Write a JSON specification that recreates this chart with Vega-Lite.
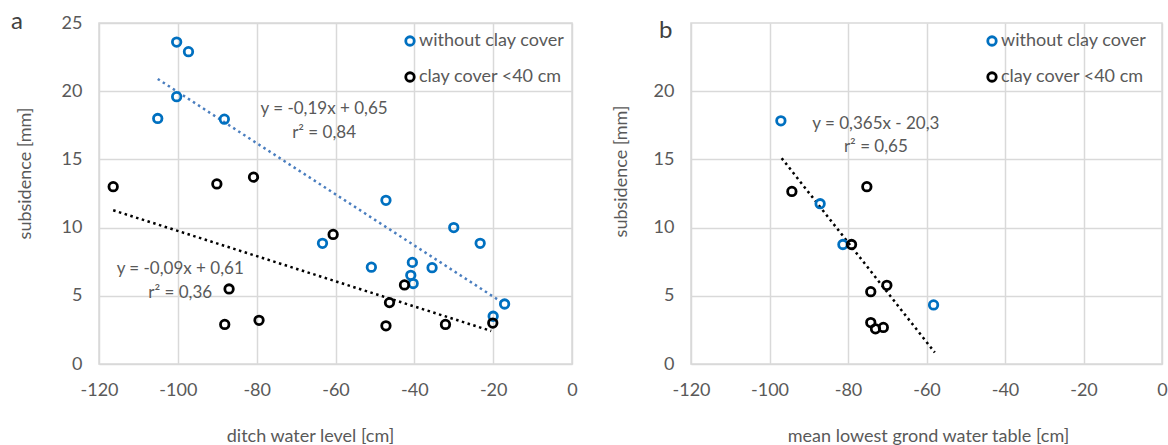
{
  "$schema": "https://vega.github.io/schema/vega-lite/v6.json",
  "background": "white",
  "padding": {"left": 10, "top": 9, "right": 5, "bottom": 0},
  "spacing": 119,
  "bounds": "flush",
  "config": {
    "font": "Lato",
    "view": {"stroke": "#d9d9d9", "strokeWidth": 1.5},
    "axis": {
      "grid": true, "gridColor": "#d9d9d9", "gridWidth": 1.5,
      "domain": false, "ticks": false,
      "labelColor": "#595959", "labelFontSize": 18, "labelFont": "Lato",
      "titleColor": "#595959", "titleFontSize": 18, "titleFontWeight": "normal", "titleFont": "Lato",
      "labelFlush": false,
      "labelExpr": "replace(datum.label, '\u2212', '-')"
    },
    "legend": {
      "orient": "none", "title": null, "padding": 0, "rowPadding": 16,
      "symbolType": "circle", "symbolSize": 72, "symbolStrokeWidth": 2.8,
      "labelFontSize": 18, "labelColor": "#595959", "labelFont": "Lato", "labelOffset": 0
    },
    "title": {"fontSize": 24, "fontWeight": "normal", "color": "#404040", "font": "Lato", "anchor": "start", "frame": "group", "offset": 0, "baseline": "alphabetic"}
  },
  "datasets": {
    "a_points": [
      {"x": -100.3, "y": 23.6, "group": "without clay cover"},
      {"x": -97.3, "y": 22.9, "group": "without clay cover"},
      {"x": -100.3, "y": 19.6, "group": "without clay cover"},
      {"x": -105.1, "y": 18.0, "group": "without clay cover"},
      {"x": -88.2, "y": 17.95, "group": "without clay cover"},
      {"x": -47.2, "y": 12.0, "group": "without clay cover"},
      {"x": -63.3, "y": 8.85, "group": "without clay cover"},
      {"x": -50.9, "y": 7.1, "group": "without clay cover"},
      {"x": -40.5, "y": 7.45, "group": "without clay cover"},
      {"x": -40.9, "y": 6.5, "group": "without clay cover"},
      {"x": -40.3, "y": 5.9, "group": "without clay cover"},
      {"x": -35.5, "y": 7.06, "group": "without clay cover"},
      {"x": -30.0, "y": 10.0, "group": "without clay cover"},
      {"x": -23.3, "y": 8.85, "group": "without clay cover"},
      {"x": -17.1, "y": 4.4, "group": "without clay cover"},
      {"x": -20.0, "y": 3.5, "group": "without clay cover"},
      {"x": -116.4, "y": 13.0, "group": "clay cover <40 cm"},
      {"x": -90.1, "y": 13.2, "group": "clay cover <40 cm"},
      {"x": -80.8, "y": 13.7, "group": "clay cover <40 cm"},
      {"x": -60.6, "y": 9.5, "group": "clay cover <40 cm"},
      {"x": -87.0, "y": 5.5, "group": "clay cover <40 cm"},
      {"x": -88.1, "y": 2.9, "group": "clay cover <40 cm"},
      {"x": -79.4, "y": 3.2, "group": "clay cover <40 cm"},
      {"x": -42.5, "y": 5.8, "group": "clay cover <40 cm"},
      {"x": -46.3, "y": 4.5, "group": "clay cover <40 cm"},
      {"x": -47.2, "y": 2.8, "group": "clay cover <40 cm"},
      {"x": -32.1, "y": 2.9, "group": "clay cover <40 cm"},
      {"x": -20.1, "y": 3.0, "group": "clay cover <40 cm"}
    ],
    "a_trend_blue": [{"x": -105.1, "y": 20.9}, {"x": -17.1, "y": 4.4}],
    "a_trend_black": [{"x": -116.4, "y": 11.27}, {"x": -20.5, "y": 2.42}],
    "a_labels": [
      {"x": -62.9, "y": 18.7, "text": "y = -0,19x + 0,65"},
      {"x": -62.9, "y": 16.9, "text": "r² = 0,84"},
      {"x": -99.4, "y": 6.96, "text": "y = -0,09x + 0,61"},
      {"x": -99.4, "y": 5.23, "text": "r² = 0,36"}
    ],
    "b_points": [
      {"x": -97.1, "y": 17.83, "group": "without clay cover"},
      {"x": -87.1, "y": 11.75, "group": "without clay cover"},
      {"x": -81.3, "y": 8.76, "group": "without clay cover"},
      {"x": -58.2, "y": 4.33, "group": "without clay cover"},
      {"x": -94.3, "y": 12.65, "group": "clay cover <40 cm"},
      {"x": -75.2, "y": 13.0, "group": "clay cover <40 cm"},
      {"x": -79.1, "y": 8.76, "group": "clay cover <40 cm"},
      {"x": -70.1, "y": 5.77, "group": "clay cover <40 cm"},
      {"x": -74.2, "y": 5.3, "group": "clay cover <40 cm"},
      {"x": -74.2, "y": 3.04, "group": "clay cover <40 cm"},
      {"x": -73.0, "y": 2.58, "group": "clay cover <40 cm"},
      {"x": -71.0, "y": 2.68, "group": "clay cover <40 cm"}
    ],
    "b_trend": [{"x": -96.9, "y": 15.09}, {"x": -57.9, "y": 0.85}],
    "b_labels": [
      {"x": -72.9, "y": 17.57, "text": "y = 0,365x - 20,3"},
      {"x": -72.9, "y": 15.89, "text": "r² = 0,65"}
    ]
  },
  "resolve": {"scale": {"color": "independent"}, "legend": {"color": "independent"}},
  "hconcat": [
    {
      "width": 473, "height": 341,
      "title": {"text": "a", "dx": -88, "dy": 24},
      "layer": [
        {
          "data": {"name": "a_trend_blue"},
          "mark": {"type": "line", "color": "#4a7ebf", "strokeWidth": 2.5, "strokeDash": [2.5, 3.5]},
          "encoding": {
            "x": {"field": "x", "type": "quantitative", "scale": {"domain": [-120, 0], "nice": false},
                  "axis": {"values": [-120, -100, -80, -60, -40, -20, 0], "title": "ditch water level [cm]", "labelPadding": 17, "titleX": 211, "titleY": 77, "titleBaseline": "alphabetic"}},
            "y": {"field": "y", "type": "quantitative", "scale": {"domain": [0, 25], "nice": false},
                  "axis": {"values": [0, 5, 10, 15, 20, 25], "title": "subsidence [mm]", "labelPadding": 17, "titleX": -65, "titleY": 150}}
          }
        },
        {
          "data": {"name": "a_trend_black"},
          "mark": {"type": "line", "color": "#000000", "strokeWidth": 2.5, "strokeDash": [2.5, 3.5]},
          "encoding": {
            "x": {"field": "x", "type": "quantitative"},
            "y": {"field": "y", "type": "quantitative"}
          }
        },
        {
          "data": {"name": "a_points"},
          "mark": {"type": "point", "filled": false, "strokeWidth": 2.8, "size": 72, "opacity": 1},
          "encoding": {
            "x": {"field": "x", "type": "quantitative"},
            "y": {"field": "y", "type": "quantitative"},
            "color": {"field": "group", "type": "nominal",
                      "scale": {"domain": ["without clay cover", "clay cover <40 cm"], "range": ["#0070c0", "#000000"]},
                      "legend": {"legendX": 302, "legendY": 9}}
          }
        },
        {
          "data": {"name": "a_labels"},
          "mark": {"type": "text", "fontSize": 17, "color": "#595959", "align": "center", "baseline": "middle"},
          "encoding": {
            "x": {"field": "x", "type": "quantitative"},
            "y": {"field": "y", "type": "quantitative"},
            "text": {"field": "text"}
          }
        }
      ]
    },
    {
      "width": 471, "height": 341,
      "title": {"text": "b", "dx": -32, "dy": 24},
      "layer": [
        {
          "data": {"name": "b_trend"},
          "mark": {"type": "line", "color": "#000000", "strokeWidth": 2.5, "strokeDash": [2.5, 3.5]},
          "encoding": {
            "x": {"field": "x", "type": "quantitative", "scale": {"domain": [-120, 0], "nice": false},
                  "axis": {"values": [-120, -100, -80, -60, -40, -20, 0], "title": "mean lowest grond water table [cm]", "labelPadding": 17, "titleX": 237, "titleY": 77, "titleBaseline": "alphabetic"}},
            "y": {"field": "y", "type": "quantitative", "scale": {"domain": [0, 25], "nice": false},
                  "axis": {"values": [0, 5, 10, 15, 20], "title": "subsidence [mm]", "labelPadding": 17, "titleX": -61, "titleY": 148}}
          }
        },
        {
          "data": {"name": "b_points"},
          "mark": {"type": "point", "filled": false, "strokeWidth": 2.8, "size": 72, "opacity": 1},
          "encoding": {
            "x": {"field": "x", "type": "quantitative"},
            "y": {"field": "y", "type": "quantitative"},
            "color": {"field": "group", "type": "nominal",
                      "scale": {"domain": ["without clay cover", "clay cover <40 cm"], "range": ["#0070c0", "#000000"]},
                      "legend": {"legendX": 292, "legendY": 9}}
          }
        },
        {
          "data": {"name": "b_labels"},
          "mark": {"type": "text", "fontSize": 17, "color": "#595959", "align": "center", "baseline": "middle"},
          "encoding": {
            "x": {"field": "x", "type": "quantitative"},
            "y": {"field": "y", "type": "quantitative"},
            "text": {"field": "text"}
          }
        }
      ]
    }
  ]
}
